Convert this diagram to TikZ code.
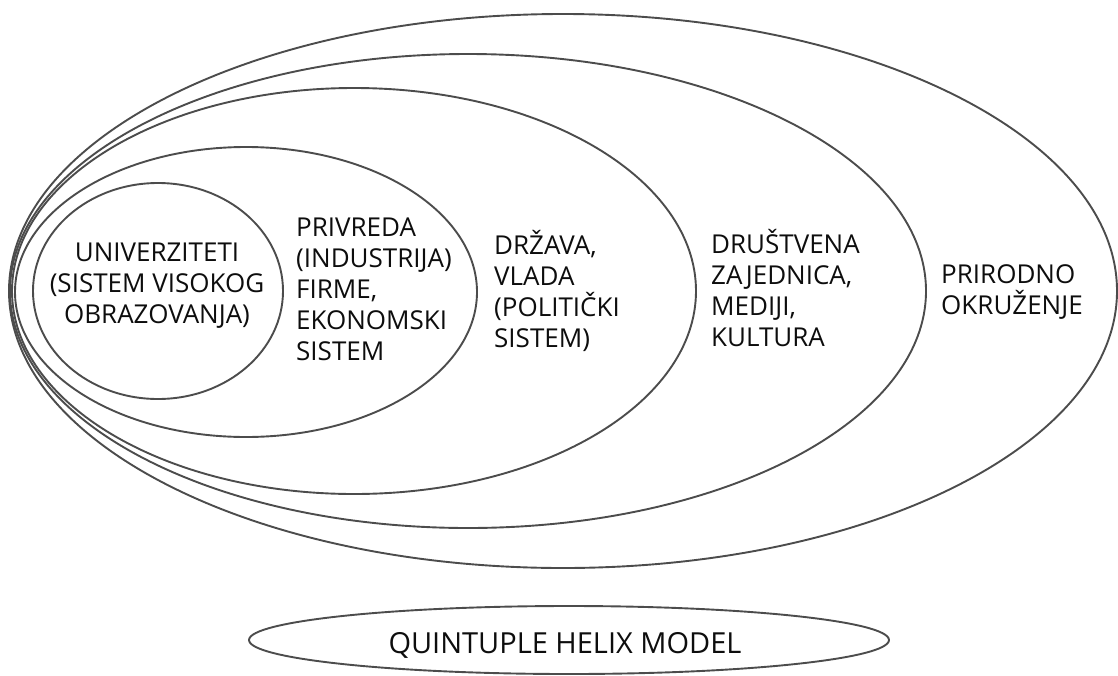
\documentclass[tikz,border=0pt]{standalone}
\usepackage{fontspec}
\setmainfont{Open Sans}
\usetikzlibrary{shapes.geometric}
\definecolor{ringgray}{rgb}{0.3, 0.3, 0.3}
\definecolor{inkblack}{rgb}{0.05, 0.05, 0.05}

\begin{document}
\begin{tikzpicture}[x=1pt, y=-1pt,
    ring/.style={ellipse, draw=ringgray, line width=1.9pt, inner sep=0pt},
    label/.style={text=inkblack, font=\fontsize{26}{31}\selectfont, inner sep=0pt}]
      \useasboundingbox (0,0) rectangle (1118,675);

      \node[ring, minimum width=1108, minimum height=554] (prirodno) at (563, 291) {};
      \node[ring, minimum width=916, minimum height=474] (drustvo) at (468, 291) {};
      \node[ring, minimum width=684, minimum height=406] (drzava) at (354, 291) {};
      \node[ring, minimum width=462, minimum height=290] (privreda) at (246, 292) {};
      \node[ring, minimum width=250, minimum height=216] (univ) at (158, 291) {};

      \node[label, align=center] (univtext) at (157, 286) {UNIVERZITETI\\(SISTEM VISOKOG\\OBRAZOVANJA)};
      \node[label, align=left, anchor=west] (privtext) at (296, 289) {PRIVREDA\\(INDUSTRIJA)\\FIRME,\\EKONOMSKI\\SISTEM};
      \node[label, align=left, anchor=west] (drztext) at (494, 291) {DRŽAVA,\\VLADA\\(POLITIČKI\\SISTEM)};
      \node[label, align=left, anchor=west] (drutext) at (711, 288) {DRUŠTVENA\\ZAJEDNICA,\\MEDIJI,\\KULTURA};
      \node[label, align=left, anchor=west] (pritext) at (941, 292) {PRIRODNO\\OKRUŽENJE};

      \node[ring, minimum width=640, minimum height=68] (model) at (569, 640) {};
      \node[label, font=\fontsize{29}{34}\selectfont] (modeltext) at (565, 645) {QUINTUPLE HELIX MODEL};

    \end{tikzpicture}
\end{document}
